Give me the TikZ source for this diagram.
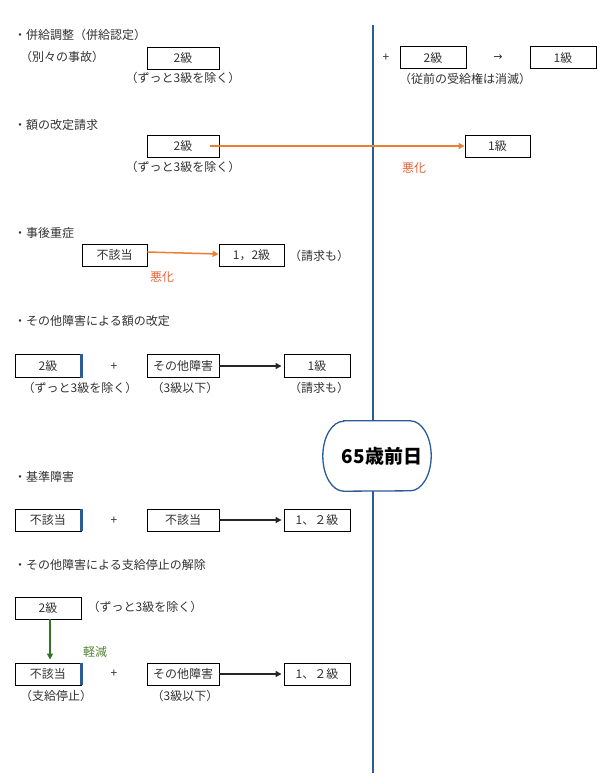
\documentclass[tikz,border=0pt]{standalone}
\usepackage{fontspec}
\setmainfont{Noto Sans CJK JP}
\newfontfamily\symfnt{DejaVu Sans}
\usetikzlibrary{arrows.meta}
\definecolor{divblue}{RGB}{44,92,152}
\definecolor{txtgray}{RGB}{50,50,50}
\definecolor{orng}{RGB}{237,125,49}
\definecolor{orngtxt}{RGB}{230,100,60}
\definecolor{grn}{RGB}{50,115,40}
\definecolor{grntxt}{RGB}{84,130,53}
\tikzset{
  lbl/.style={inner sep=0pt, text=txtgray, font=\fontsize{12}{14}\selectfont},
  head/.style={lbl, anchor=west},
  box/.style={draw=black, line width=0.9pt, minimum height=22pt, inner sep=0pt, text=txtgray, font=\fontsize{12}{14}\selectfont},
  bluebar/.style={draw=divblue, line width=3pt},
  blackarrow/.style={draw=black!85, line width=1.7pt, -{Triangle[length=6pt,width=6pt]}, shorten >=2pt},
  orangearrow/.style={draw=orng, line width=1.5pt, -{Triangle[length=6pt,width=6pt]}},
  greenarrow/.style={draw=grn, line width=1.5pt, -{Triangle[length=6pt,width=6pt]}},
}
\begin{document}
\begin{tikzpicture}[x=1pt,y=-1pt]
\path[use as bounding box] (0,0) rectangle (603,777);

% divider
\coordinate (divtop) at (373,25);
\coordinate (divbot) at (373,773);
\draw[divblue, line width=2.2pt] (divtop) -- (divbot);

% 65 node
\node[fill=white, minimum width=108pt, minimum height=70pt, inner sep=0pt] (age) at (377,456) {};
\draw[divblue, line width=1.3pt, fill=white]
  ([xshift=21pt]age.north west) -- ([xshift=-21pt]age.north east)
  arc[start angle=90, end angle=-90, x radius=21pt, y radius=35pt]
  -- ([xshift=21pt]age.south west)
  arc[start angle=270, end angle=90, x radius=21pt, y radius=35pt] -- cycle;
\node[font=\fontsize{19}{22}\selectfont\bfseries, text=black] (agetxt) at (382,456) {65歳前日};

% section 1
\node[head] (h1) at (14,35) {・併給調整（併給認定）};
\node[head] (h1b) at (20,57) {（別々の事故）};
\node[box, minimum width=72pt] (p2) at (183,58) {2級};
\node[lbl] (p2n) at (183,78) {（ずっと3級を除く）};
\node[lbl] (plus0) at (386,58) {+};
\node[box, minimum width=66pt] (p2b) at (433,57.5) {2級};
\node[lbl, font=\fontsize{11}{13}\selectfont\symfnt] (arr0) at (498,58) {→};
\node[box, minimum width=66pt] (p1) at (563,57.5) {1級};
\node[lbl] (p2bn) at (465,79) {（従前の受給権は消滅）};

% section 2
\node[head] (h2) at (14,125) {・額の改定請求};
\node[box, minimum width=72pt] (r2) at (183,146) {2級};
\node[lbl] (r2n) at (183,167) {（ずっと3級を除く）};
\node[box, minimum width=65pt] (r1) at (497.5,146) {1級};
\draw[orangearrow] ([xshift=-9pt]r2.east) -- (r1.west);
\node[lbl, text=orngtxt] (w1) at (414,168) {悪化};

% section 3
\node[head] (h3) at (14,233) {・事後重症};
\node[box, minimum width=65pt] (j0) at (114.5,255) {不該当};
\node[box, minimum width=65pt] (j12) at (251.5,255) {1，2級};
\node[lbl] (j12n) at (319,256) {（請求も）};
\draw[orangearrow] ([yshift=3pt]j0.east) -- ([yshift=1pt]j12.west);
\node[lbl, text=orngtxt] (w2) at (162,277) {悪化};

% section 4
\node[head] (h4) at (14,321) {・その他障害による額の改定};
\node[box, minimum width=66pt, minimum height=23pt] (s2) at (48,366) {2級};
\draw[bluebar] (s2.north east) -- (s2.south east);
\node[lbl] (plus1) at (114,367) {+};
\node[box, minimum width=72pt, minimum height=23pt] (so) at (183,366) {その他障害};
\node[box, minimum width=66pt, minimum height=23pt] (s1) at (317,366) {1級};
\draw[blackarrow] (so.east) -- (s1.west);
\node[lbl] (s2n) at (80,388) {（ずっと3級を除く）};
\node[lbl] (son) at (185,388) {（3級以下）};
\node[lbl] (s1n) at (319,388) {（請求も）};

% section 5
\node[head] (h5) at (14,477) {・基準障害};
\node[box, minimum width=66pt] (k0) at (48,520) {不該当};
\draw[bluebar] (k0.north east) -- (k0.south east);
\node[lbl] (plus2) at (114,521) {+};
\node[box, minimum width=72pt] (k0b) at (183,520) {不該当};
\node[box, minimum width=66pt] (k12) at (317,520) {1、２級};
\draw[blackarrow] (k0b.east) -- (k12.west);

% section 6
\node[head] (h6) at (14,565) {・その他障害による支給停止の解除};
\node[box, minimum width=66pt] (t2) at (48,608) {2級};
\node[lbl] (t2n) at (145,607) {（ずっと3級を除く）};
\node[box, minimum width=66pt] (t0) at (48,674) {不該当};
\draw[bluebar] (t0.north east) -- (t0.south east);
\draw[greenarrow] ([xshift=2pt]t2.south) -- ([xshift=2pt,yshift=3pt]t0.north);
\node[lbl, text=grntxt] (light) at (95,652) {軽減};
\node[lbl] (plus3) at (114,674) {+};
\node[box, minimum width=72pt] (to) at (183,674) {その他障害};
\node[box, minimum width=66pt] (t12) at (317,674) {1、２級};
\draw[blackarrow] (to.east) -- (t12.west);
\node[lbl] (t0n) at (56,696) {（支給停止）};
\node[lbl] (ton) at (185,696) {（3級以下）};
\end{tikzpicture}
\end{document}
